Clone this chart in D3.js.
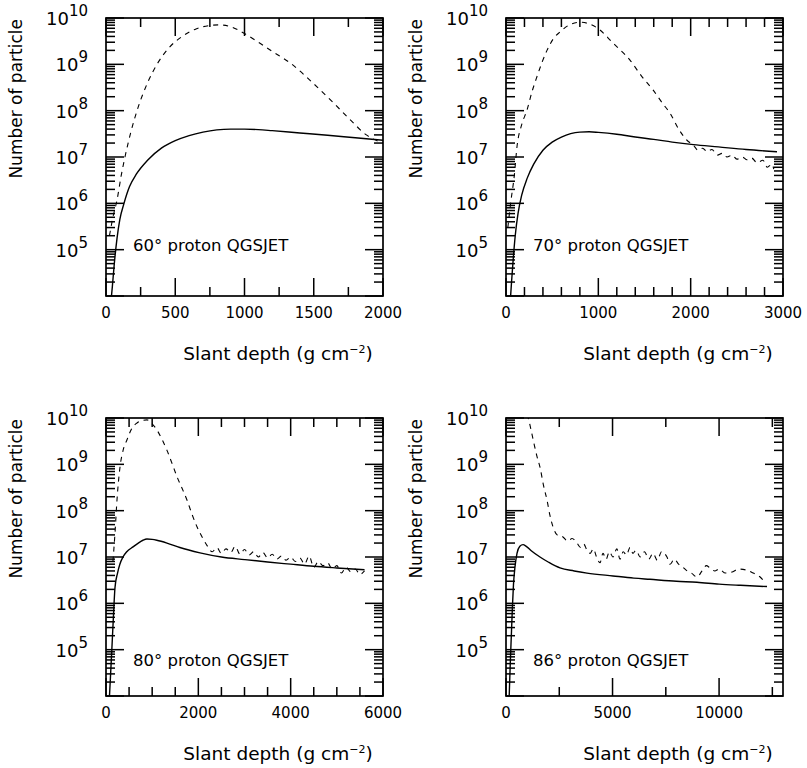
<!DOCTYPE html>
<html><head><meta charset="utf-8">
<script src="https://cdn.jsdelivr.net/npm/d3@7"></script>
<style>
html,body{margin:0;padding:0;background:#fff;}
text{font-family:"DejaVu Sans",sans-serif;fill:#000;}
</style></head>
<body>
<svg id="chart" width="807" height="768"></svg>
<script>
// ---------------- data ----------------
const panelLabels = ["60° proton QGSJET", "70° proton QGSJET", "80° proton QGSJET", "86° proton QGSJET"];
const xMaxes = [2000, 3000, 6000, 13000];
const xMajorTicks = [[0, 500, 1000, 1500, 2000], [0, 1000, 2000, 3000], [0, 2000, 4000, 6000], [0, 5000, 10000]];
const xMinorSteps = [250, 200, 500, 2500];
const yTickExponents = [5, 6, 7, 8, 9, 10];
const yDomain = [1e4, 1e10];

const solid60 = [[30,5e3],[45,1.5e4],[60,5e4],[80,1.8e5],[100,4.5e5],[130,1.0e6],[170,2.3e6],[220,4.3e6],[300,8.5e6],[400,1.55e7],[500,2.25e7],[600,2.9e7],[700,3.45e7],[800,3.85e7],[900,4.0e7],[1000,4.0e7],[1100,3.9e7],[1200,3.7e7],[1400,3.3e7],[1600,2.95e7],[1800,2.6e7],[2000,2.3e7]];
const dash60 = [[25,2e5],[50,5e5],[80,1.2e6],[110,4e6],[137,1e7],[180,3.5e7],[224,1e8],[300,4e8],[368,1e9],[450,2.2e9],[550,4e9],[650,5.8e9],[750,6.9e9],[820,7.1e9],[900,6.5e9],[990,4.8e9],[1100,3e9],[1200,1.9e9],[1330,1.07e9],[1500,3.8e8],[1640,1.5e8],[1760,6.5e7],[1880,3e7],[2000,2e7]];

const solid70 = [[40,5e3],[60,2e4],[80,7e4],[100,2e5],[130,6e5],[170,1.5e6],[230,3.5e6],[300,7e6],[400,1.4e7],[500,2.1e7],[600,2.7e7],[700,3.2e7],[800,3.45e7],[900,3.5e7],[1000,3.4e7],[1200,3.1e7],[1400,2.7e7],[1600,2.4e7],[1800,2.1e7],[2030,1.85e7],[2300,1.65e7],[2600,1.45e7],[2935,1.3e7]];
const dash70 = [[20,3e5],[50,1e6],[90,4e6],[119,1.66e7],[170,5e7],[227,1.02e8],[280,2.5e8],[335,5.4e8],[390,1.1e9],[444,2e9],[510,3.5e9],[585,5e9],[680,7e9],[800,8.1e9],[900,7.5e9],[1018,5.5e9],[1150,3e9],[1343,1.23e9],[1470,5.5e8],[1592,2.8e8],[1700,1.4e8],[1776,8.9e7],[1870,4e7],[1960,2.3e7],[2030,1.8e7],[2080,1.4e7],[2130,1.55e7],[2177,1.3e7],[2230,1.45e7],[2290,1.1e7],[2340,1.2e7],[2393,1e7],[2450,1.1e7],[2500,9e6],[2560,1e7],[2610,8.7e6],[2660,9.5e6],[2720,7.5e6],[2783,8.5e6],[2830,6e6],[2880,7e6],[2900,5.5e6]];

const solid80 = [[60,5e3],[100,3e4],[130,1.2e5],[160,5e5],[195,2.2e6],[250,4.5e6],[300,7e6],[368,1e7],[450,1.3e7],[585,1.65e7],[700,2e7],[800,2.3e7],[888,2.45e7],[1000,2.4e7],[1100,2.3e7],[1321,2e7],[1600,1.6e7],[2036,1.23e7],[2500,1e7],[3000,8.8e6],[3500,7.8e6],[4000,7e6],[4500,6.3e6],[5000,5.8e6],[5600,5.3e6]];
const dash80 = [[150,8e6],[195,3.3e7],[238,1.7e8],[303,8.7e8],[370,2e9],[455,3.4e9],[560,6e9],[671,7.8e9],[780,8.8e9],[888,9.1e9],[1000,7.5e9],[1104,5.5e9],[1210,3.5e9],[1321,2e9],[1430,1.05e9],[1538,5.4e8],[1650,3e8],[1754,1.7e8],[1860,8.5e7],[1971,4.5e7],[2100,2.5e7],[2200,1.7e7],[2300,1.3e7],[2400,1.6e7],[2500,1.2e7],[2600,1.5e7],[2700,1.25e7],[2800,1.7e7],[2900,1.15e7],[3000,1.45e7],[3100,1.1e7],[3200,1.3e7],[3300,1.0e7],[3400,1.25e7],[3500,9.5e6],[3600,1.15e7],[3700,9e6],[3800,1.05e7],[3900,8.5e6],[4000,1e7],[4100,8e6],[4200,9.5e6],[4300,7e6],[4400,1.05e7],[4500,6e6],[4600,8e6],[4700,6.5e6],[4800,7.5e6],[4900,5.5e6],[5000,6.5e6],[5100,4.5e6],[5200,6e6],[5300,4.8e6],[5400,5.5e6],[5500,4.2e6],[5600,5e6]];

const solid86 = [[150,1e4],[200,5e4],[250,2e5],[300,8e5],[350,2.5e6],[420,6e6],[516,1.2e7],[650,1.7e7],[798,1.85e7],[950,1.7e7],[1200,1.35e7],[1595,1e7],[2000,7.7e6],[2534,5.8e6],[3200,5e6],[3800,4.5e6],[5022,3.9e6],[6000,3.5e6],[6757,3.3e6],[8000,3.0e6],[8963,2.85e6],[10000,2.6e6],[11000,2.45e6],[12250,2.3e6]];
const dash86 = [[1000,1.2e10],[1126,7e9],[1300,3e9],[1450,1.5e9],[1595,8.7e8],[1760,3.5e8],[1924,1.7e8],[2060,8e7],[2205,4.5e7],[2400,3e7],[2675,2.7e7],[2900,2.2e7],[3100,2.5e7],[3332,2e7],[3500,1.6e7],[3650,1.9e7],[3800,1.4e7],[3950,1.2e7],[4100,1.5e7],[4250,1e7],[4411,7.5e6],[4550,1.2e7],[4700,9e6],[4850,1.3e7],[5022,1e7],[5200,1.5e7],[5350,9e6],[5500,1.3e7],[5650,1.1e7],[5820,1.6e7],[5960,1.2e7],[6100,1.4e7],[6300,1e7],[6500,1.3e7],[6700,9e6],[6900,1.2e7],[7100,8.5e6],[7300,1.3e7],[7555,1e7],[7700,7e6],[7900,9e6],[8100,7e6],[8306,6e6],[8500,5e6],[8700,4.5e6],[8963,3.7e6],[9200,5e6],[9400,6.5e6],[9573,5.8e6],[9800,5e6],[10000,5.5e6],[10300,4.5e6],[10650,4.8e6],[10900,5.5e6],[11300,5.2e6],[11600,4.5e6],[11900,3.8e6],[12060,3.2e6]];

const solidSeries = [solid60, solid70, solid80, solid86];
const dashSeries = [dash60, dash70, dash80, dash86];

// ---------------- layout ----------------
const panelOrigins = [[106, 18], [506, 18], [106, 418], [506, 418]];
const W = 277, H = 278;
const MAJ = 18, MIN = 9, TW = 1.5;

const svg = d3.select("#chart");

panelOrigins.forEach((o, i) => {
  const g = svg.append("g").attr("transform", `translate(${o[0]},${o[1]})`);
  const x = d3.scaleLinear().domain([0, xMaxes[i]]).range([0, W]);
  const y = d3.scaleLog().domain(yDomain).range([H, 0]);

  const clipId = "clip" + i;
  g.append("clipPath").attr("id", clipId).append("rect").attr("width", W).attr("height", H);

  // frame
  g.append("rect").attr("width", W).attr("height", H).attr("fill", "none").attr("stroke", "#000").attr("stroke-width", 1.7);

  // tick marks as thin filled rectangles (inward on all four sides)
  const majStep = xMajorTicks[i][1] - xMajorTicks[i][0];
  const xTicks = d3.range(0, xMaxes[i] + 1, xMinorSteps[i]).map(v => ({ v, len: (v % majStep === 0) ? MAJ : MIN }));
  const yTicks = [];
  for (let e = 4; e <= 10; e++) {
    yTicks.push({ v: Math.pow(10, e), len: MAJ });
    if (e < 10) for (let m = 2; m <= 9; m++) yTicks.push({ v: m * Math.pow(10, e), len: MIN });
  }
  const tk = g.append("g").attr("fill", "#000");
  tk.selectAll(null).data(xTicks).enter().append("rect")
    .attr("x", d => x(d.v) - TW / 2).attr("y", d => H - d.len).attr("width", TW).attr("height", d => d.len);
  tk.selectAll(null).data(xTicks).enter().append("rect")
    .attr("x", d => x(d.v) - TW / 2).attr("y", 0).attr("width", TW).attr("height", d => d.len);
  tk.selectAll(null).data(yTicks).enter().append("rect")
    .attr("x", 0).attr("y", d => y(d.v) - TW / 2).attr("width", d => d.len).attr("height", TW);
  tk.selectAll(null).data(yTicks).enter().append("rect")
    .attr("x", d => W - d.len).attr("y", d => y(d.v) - TW / 2).attr("width", d => d.len).attr("height", TW);

  // curves
  const line = d3.line().x(d => x(d[0])).y(d => y(d[1])).curve(d3.curveMonotoneX);
  const lg = g.append("g").attr("clip-path", `url(#${clipId})`);
  lg.append("path").attr("d", line(dashSeries[i])).attr("fill", "none").attr("stroke", "#000")
    .attr("stroke-width", 1.1).attr("stroke-dasharray", "5,5");
  lg.append("path").attr("d", line(solidSeries[i])).attr("fill", "none").attr("stroke", "#000")
    .attr("stroke-width", 1.4);

  // x tick labels
  g.selectAll(".xl").data(xMajorTicks[i]).enter().append("text")
    .attr("x", d => x(d)).attr("y", H + 17).attr("text-anchor", "middle")
    .attr("dominant-baseline", "middle").attr("font-size", 15).text(d => d);

  // y tick labels
  yTickExponents.forEach(e => {
    const t = g.append("text").attr("x", -18).attr("y", y(Math.pow(10, e)) + 7)
      .attr("text-anchor", "end").attr("font-size", 18);
    t.append("tspan").text("10");
    t.append("tspan").attr("dy", -9).attr("font-size", 15).text(e);
  });

  // axis titles
  const xt = g.append("text").attr("x", 172).attr("y", H + 64).attr("text-anchor", "middle").attr("font-size", 18.5);
  xt.append("tspan").text("Slant depth (g cm");
  xt.append("tspan").attr("dy", -7).attr("font-size", 11).text("−2");
  xt.append("tspan").attr("dy", 7).text(")");

  g.append("text").attr("transform", `translate(${-84},${1}) rotate(-90)`)
    .attr("text-anchor", "end").attr("font-size", 17).text("Number of particle");

  // annotation
  g.append("text").attr("x", 27).attr("y", i < 2 ? 228 : 243).attr("dominant-baseline", "middle")
    .attr("font-size", 16.5).text(panelLabels[i]);
});
</script>
</body></html>
